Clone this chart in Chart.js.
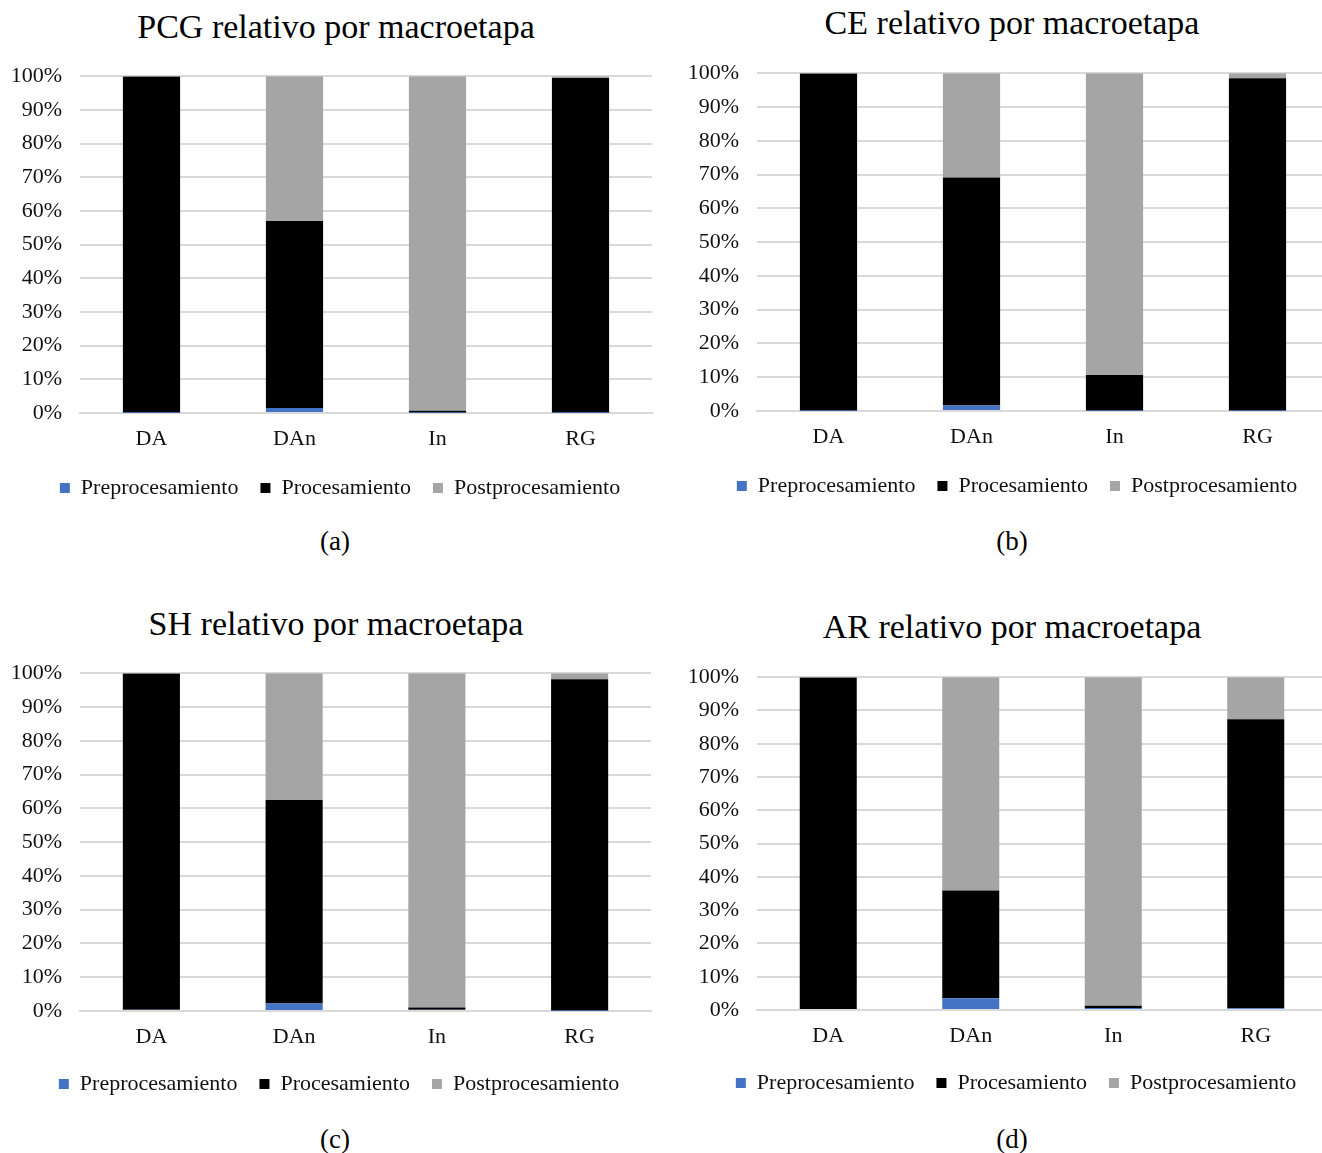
<!DOCTYPE html>
<html>
<head>
<meta charset="utf-8">
<script src="https://cdn.jsdelivr.net/npm/chart.js@4.4.1/dist/chart.umd.min.js"></script>
<style>
  html, body { margin: 0; padding: 0; background: #fff; }
  #page { position: relative; width: 1322px; height: 1153px; overflow: hidden; }
  canvas { position: absolute; }
  .txt { position: absolute; width: 600px; text-align: center; font-family: "Liberation Serif", serif; color: #000; white-space: nowrap; }
  .title { font-size: 34px; line-height: 40px; }
  .cap { font-size: 27px; line-height: 32px; }
</style>
</head>
<body>
<div id="page"></div>
<script>
const categories = ['DA', 'DAn', 'In', 'RG']
const seriesNames = ['Preprocesamiento', 'Procesamiento', 'Postprocesamiento']
const titles = ['PCG relativo por macroetapa', 'CE relativo por macroetapa', 'SH relativo por macroetapa', 'AR relativo por macroetapa']
const captions = ['(a)', '(b)', '(c)', '(d)']

// percent per macroetapa
const pcgPre = [0.1, 1.5, 0.1, 0.1]
const pcgProc = [99.8, 55.5, 0.6, 99.4]
const pcgPost = [0.1, 43.0, 99.3, 0.5]

const cePre = [0.1, 1.6, 0.05, 0.1]
const ceProc = [99.8, 67.5, 10.6, 98.4]
const cePost = [0.1, 30.9, 89.35, 1.5]

const shPre = [0.4, 2.2, 0.4, 0.1]
const shProc = [99.5, 60.3, 0.6, 98.1]
const shPost = [0.1, 37.5, 99.0, 1.8]

const arPre = [0.3, 3.5, 0.6, 0.5]
const arProc = [99.6, 32.4, 0.7, 86.9]
const arPost = [0.1, 64.1, 98.7, 12.6]

const colors = ['#4472C4', '#000000', '#A5A5A5']
const gridColor = '#d9d9d9'
const font = 'Liberation Serif'

// panel geometry: canvas placement, plot box, legend centre (lx)
const panels = [
  { data: [pcgPre, pcgProc, pcgPost], cl: 0, w: 660, top: 45, h: 464, padR: 8, yW: 80, xH: 42, lx: 340, tx: 336, ty: 27, cx: 335, cy: 541 },
  { data: [cePre, ceProc, cePost], cl: 660, w: 672, top: 42, h: 465, padR: 3, yW: 97, xH: 42, lx: 1017, tx: 1012, ty: 23, cx: 1012, cy: 541 },
  { data: [shPre, shProc, shPost], cl: 0, w: 660, top: 642, h: 463, padR: 9, yW: 80, xH: 40, lx: 339, tx: 336, ty: 624, cx: 335, cy: 1139 },
  { data: [arPre, arProc, arPost], cl: 660, w: 672, top: 646, h: 458, padR: 5, yW: 97, xH: 40, lx: 1016, tx: 1012, ty: 627, cx: 1012, cy: 1139 },
]

// moves the legend sideways so its centre sits where the reference has it
const legendShift = {
  id: 'legendShift',
  afterLayout(chart, args, opts) {
    const lg = chart.legend
    if (!lg) return
    const d = opts.center - (lg.left + lg.right) / 2
    lg.left += d
    lg.right += d
  }
}

const page = document.getElementById('page')

panels.forEach((p, k) => {
  let t = document.createElement('div')
  t.className = 'txt title'
  t.style.left = (p.tx - 300) + 'px'
  t.style.top = (p.ty - 20) + 'px'
  t.textContent = titles[k]
  page.appendChild(t)

  let c = document.createElement('div')
  c.className = 'txt cap'
  c.style.left = (p.cx - 300) + 'px'
  c.style.top = (p.cy - 16) + 'px'
  c.textContent = captions[k]
  page.appendChild(c)

  let cv = document.createElement('canvas')
  cv.width = p.w
  cv.height = p.h
  cv.style.left = p.cl + 'px'
  cv.style.top = p.top + 'px'
  cv.style.width = p.w + 'px'
  cv.style.height = p.h + 'px'
  page.appendChild(cv)

  const datasets = []
  for (let i = 0; i < 3; i++) {
    datasets.push({
      label: seriesNames[i],
      data: p.data[i],
      backgroundColor: colors[i],
      borderWidth: 0,
      barPercentage: 0.4,
      categoryPercentage: 1.0
    })
  }

  new Chart(cv, {
    type: 'bar',
    data: { labels: categories, datasets: datasets },
    plugins: [legendShift],
    options: {
      responsive: false,
      animation: false,
      layout: { padding: { left: 0, right: p.padR, top: 30, bottom: 0 } },
      plugins: {
        legendShift: { center: p.lx - p.cl },
        title: { display: false },
        tooltip: { enabled: false },
        legend: {
          position: 'bottom',
          labels: {
            boxWidth: 10,
            boxHeight: 10,
            padding: 22,
            color: '#111',
            font: { family: font, size: 22 }
          }
        }
      },
      scales: {
        x: {
          stacked: true,
          grid: { display: false, drawTicks: false },
          border: { color: gridColor, width: 2 },
          ticks: { color: '#111', padding: 13, font: { family: font, size: 22 } },
          afterFit: (s) => { s.height = p.xH }
        },
        y: {
          stacked: true,
          min: 0,
          max: 100,
          grid: { color: gridColor, lineWidth: 2, drawTicks: false },
          border: { display: false },
          ticks: {
            stepSize: 10,
            padding: 18,
            color: '#111',
            font: { family: font, size: 22 },
            callback: (v) => v + '%'
          },
          afterFit: (s) => { s.width = p.yW }
        }
      }
    }
  })
})
</script>
</body>
</html>
